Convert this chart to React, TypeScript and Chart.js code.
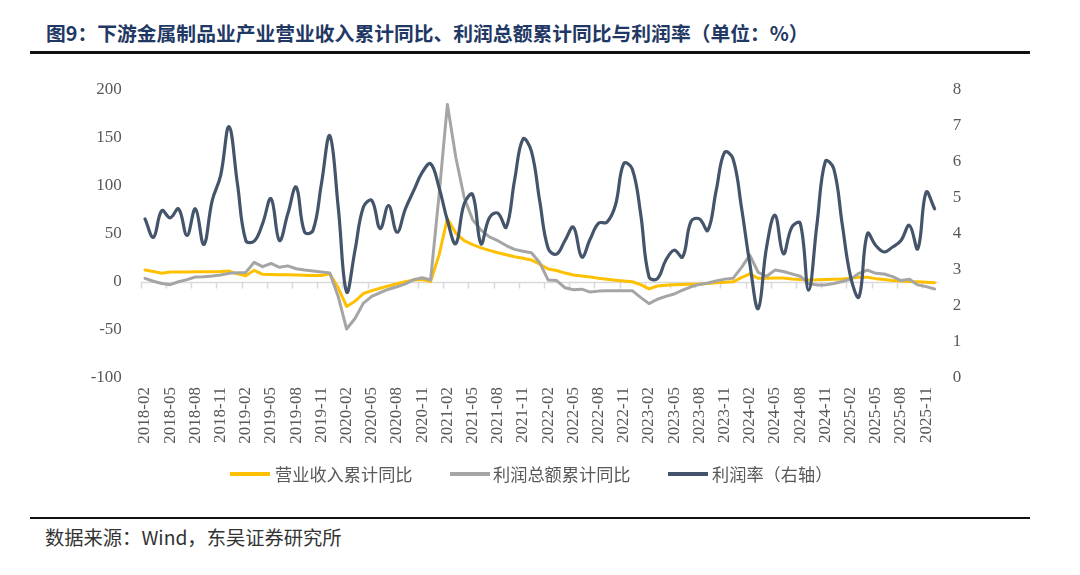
import React, { useEffect, useRef } from 'react';
import { Chart, registerables } from 'chart.js';

Chart.register(...registerables);

// ---- data ----
const categories: string[] = [];
for (let y = 2018; y <= 2025; y++) {
  for (let m = 1; m <= 12; m++) {
    if (y === 2018 && m < 2) continue;
    categories.push(`${y}-${String(m).padStart(2, '0')}`);
  }
}

const revenueYoY: number[] = [
  12.4, 11.0, 9.2, 10.5, 10.5, 10.4, 10.6, 10.8, 10.8, 11.0,
  11.4, 8.5, 6.6, 12.2, 8.0, 7.8, 7.6, 7.5, 7.3, 7.0,
  6.8, 6.8, 8.5, -6.0, -25.5, -20.0, -12.0, -9.0, -6.5, -4.0,
  -1.8, 0.3, 2.0, 2.6, 0.5, 28.0, 66.0, 51.0, 43.0, 39.0,
  35.5, 33.0, 30.5, 28.4, 26.3, 24.8, 23.0, 18.5, 13.5, 12.0,
  9.3, 7.3, 6.2, 5.2, 3.8, 2.9, 1.8, 1.0, 0.3, -2.8,
  -7.2, -4.2, -3.3, -2.8, -2.5, -2.3, -2.1, -1.5, -0.8, -0.3,
  0.2, 4.5, 8.5, 3.8, 3.8, 4.2, 4.2, 3.2, 2.6, 2.2,
  2.3, 2.7, 2.9, 3.1, 4.0, 4.9, 4.9, 3.5, 2.5, 1.6,
  1.0, 0.5, 0.2, -0.3, -0.7,
];

const profitYoY: number[] = [
  3.8, 0.8, -1.5, -2.8, 0.3, 2.5, 5.2, 5.5, 6.2, 7.2,
  9.0, 9.6, 10.0, 20.5, 16.0, 19.3, 15.3, 16.8, 13.8, 12.5,
  11.5, 10.5, 9.5, -15.0, -49.0, -38.0, -22.0, -15.0, -11.0, -7.5,
  -5.0, -2.0, 2.5, 4.5, 2.1, 90.0, 185.0, 130.0, 88.0, 65.0,
  54.0, 47.0, 43.0, 38.0, 34.0, 32.0, 30.5, 20.0, 2.0, 1.5,
  -6.0, -8.0, -7.5, -10.5, -9.5, -9.0, -9.0, -9.0, -9.0, -16.0,
  -22.5, -18.0, -15.0, -12.5, -8.5, -5.0, -2.5, -1.0, 1.0, 3.0,
  3.8, 15.0, 28.0, 10.0, 6.0, 12.4, 11.0, 8.5, 6.0, -1.5,
  -3.1, -3.0, -1.5, 0.5, 3.0, 9.0, 12.4, 9.0, 8.3, 5.6,
  1.5, 2.8, -3.0, -4.8, -7.3,
];

const profitMargin: number[] = [
  4.42, 3.91, 4.65, 4.45, 4.70, 3.96, 4.70, 3.71, 4.93, 5.62,
  6.98, 5.40, 3.82, 3.80, 4.29, 4.98, 3.82, 4.56, 5.30, 4.05,
  4.10, 5.39, 6.73, 4.75, 2.39, 3.55, 4.75, 4.93, 4.15, 4.79,
  4.05, 4.70, 5.21, 5.71, 5.95, 5.30, 4.38, 3.73, 4.84, 5.10,
  3.73, 4.45, 4.58, 4.19, 5.50, 6.64, 6.30, 4.90, 3.60, 3.44,
  3.82, 4.19, 3.36, 3.86, 4.30, 4.33, 4.80, 5.96, 5.81, 4.57,
  2.81, 2.76, 3.27, 3.55, 3.36, 4.35, 4.42, 4.10, 5.21, 6.27,
  6.09, 4.75, 3.18, 1.93, 3.64, 4.52, 3.45, 4.19, 4.30, 2.44,
  4.28, 6.02, 5.81, 4.28, 2.81, 2.25, 4.01, 3.68, 3.50, 3.64,
  3.82, 4.24, 3.59, 5.16, 4.70,
];

const leftAxisRange = [-100, 200];
const rightAxisRange = [0, 8];
const seriesNames = ['营业收入累计同比', '利润总额累计同比', '利润率（右轴）'];
const seriesColors = ['#FFC000', '#A5A5A5', '#44546A'];

const TITLE = '图9：下游金属制品业产业营业收入累计同比、利润总额累计同比与利润率（单位：%）';
const SOURCE = '数据来源：Wind，东吴证券研究所';

const serif = "'Liberation Serif', 'Times New Roman', serif";
const cjk = "'Noto Sans CJK SC', 'Noto Sans', sans-serif";

const zeroLinePlugin = {
  id: 'zeroLine',
  beforeDatasetsDraw(chart: any) {
    const { ctx, chartArea, scales } = chart;
    const y0 = Math.round(scales.y.getPixelForValue(0)) + 0.5;
    ctx.save();
    ctx.strokeStyle = '#D9D9D9';
    ctx.lineWidth = 1.5;
    ctx.beginPath();
    ctx.moveTo(chartArea.left, y0);
    ctx.lineTo(chartArea.right, y0);
    for (let i = 0; i <= categories.length; i += 3) {
      const x = Math.round(scales.x.getPixelForValue(i - 0.5)) + 0.5;
      ctx.moveTo(x, y0);
      ctx.lineTo(x, y0 + 6);
    }
    ctx.stroke();
    ctx.restore();
  },
};

export default function App() {
  const ref = useRef<HTMLCanvasElement | null>(null);

  useEffect(() => {
    if (!ref.current) return;
    const chart = new Chart(ref.current, {
      type: 'line',
      data: {
        labels: categories,
        datasets: [
          {
            label: seriesNames[0],
            data: revenueYoY,
            yAxisID: 'y',
            borderColor: seriesColors[0],
            backgroundColor: seriesColors[0],
            borderWidth: 3,
            pointRadius: 0,
            tension: 0,
            order: 3,
            borderJoinStyle: 'round',
            borderCapStyle: 'round',
          },
          {
            label: seriesNames[1],
            data: profitYoY,
            yAxisID: 'y',
            borderColor: seriesColors[1],
            backgroundColor: seriesColors[1],
            borderWidth: 3,
            pointRadius: 0,
            tension: 0,
            order: 2,
            borderJoinStyle: 'round',
            borderCapStyle: 'round',
          },
          {
            label: seriesNames[2],
            data: profitMargin,
            yAxisID: 'y1',
            borderColor: seriesColors[2],
            backgroundColor: seriesColors[2],
            borderWidth: 3.2,
            pointRadius: 0,
            tension: 0.4,
            order: 1,
            borderJoinStyle: 'round',
            borderCapStyle: 'round',
          },
        ],
      },
      options: {
        animation: false,
        responsive: false,
        maintainAspectRatio: false,
        layout: { padding: { top: 30, left: 0, right: 0, bottom: 0 } },
        plugins: {
          legend: { display: false },
          tooltip: { enabled: false },
        },
        scales: {
          x: {
            type: 'category',
            offset: true,
            grid: { display: false, drawTicks: false },
            border: { display: false },
            ticks: {
              autoSkip: false,
              minRotation: 90,
              maxRotation: 90,
              padding: 9,
              color: '#595959',
              font: { family: serif, size: 17 },
              callback: (_v: any, i: number) => (i % 3 === 0 ? categories[i] : null),
            },
            afterFit: (s: any) => {
              s.height = 92;
            },
          },
          y: {
            position: 'left',
            min: leftAxisRange[0],
            max: leftAxisRange[1],
            grid: { display: false, drawTicks: false },
            border: { display: false },
            ticks: {
              stepSize: 50,
              padding: 19,
              color: '#595959',
              font: { family: serif, size: 17 },
            },
            afterFit: (s: any) => {
              s.width = 140.8;
            },
          },
          y1: {
            position: 'right',
            min: rightAxisRange[0],
            max: rightAxisRange[1],
            grid: { display: false, drawTicks: false },
            border: { display: false },
            ticks: {
              stepSize: 1,
              padding: 14,
              color: '#595959',
              font: { family: serif, size: 17 },
            },
            afterFit: (s: any) => {
              s.width = 141.2;
            },
          },
        },
      },
      plugins: [zeroLinePlugin],
    });
    return () => chart.destroy();
  }, []);

  const legendItems = [
    { left: 230, textLeft: 275 },
    { left: 450, textLeft: 493 },
    { left: 668, textLeft: 712 },
  ];

  return (
    <div style={{ position: 'absolute', left: 0, top: 0, width: 1080, height: 575, background: '#fff', overflow: 'hidden' }}>
      <div
        style={{
          position: 'absolute',
          left: 46,
          top: 23,
          fontFamily: cjk,
          fontSize: 19.8,
          lineHeight: '20px',
          fontWeight: 700,
          color: '#1F3864',
          whiteSpace: 'nowrap',
        }}
      >
        {TITLE}
      </div>
      <div style={{ position: 'absolute', left: 30, top: 51, width: 1000, height: 3, background: '#111' }} />
      <canvas
        ref={ref}
        width={1080}
        height={410}
        style={{ position: 'absolute', left: 0, top: 60, width: 1080, height: 410 }}
      />
      {legendItems.map((it, k) => (
        <React.Fragment key={k}>
          <div style={{ position: 'absolute', left: it.left, top: 472, width: 40, height: 4, background: seriesColors[k] }} />
          <div
            style={{
              position: 'absolute',
              left: it.textLeft,
              top: 465,
              fontFamily: cjk,
              fontSize: 17.2,
              lineHeight: '18px',
              color: '#595959',
              whiteSpace: 'nowrap',
            }}
          >
            {seriesNames[k]}
          </div>
        </React.Fragment>
      ))}
      <div style={{ position: 'absolute', left: 30, top: 517, width: 1000, height: 2, background: '#111' }} />
      <div
        style={{
          position: 'absolute',
          left: 45,
          top: 527,
          fontFamily: cjk,
          fontSize: 19.3,
          lineHeight: '20px',
          color: '#333',
          whiteSpace: 'nowrap',
        }}
      >
        {SOURCE}
      </div>
    </div>
  );
}
